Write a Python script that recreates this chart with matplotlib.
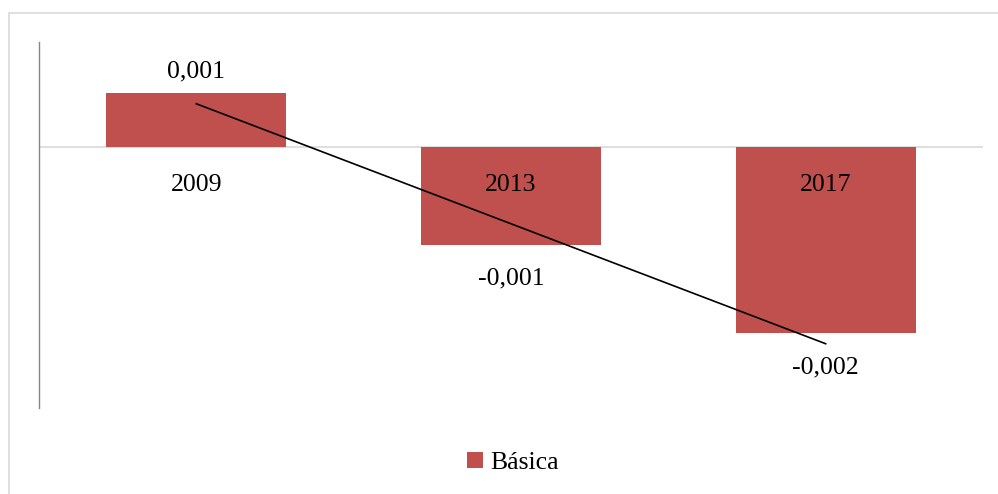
import numpy as np
import matplotlib.pyplot as plt
from matplotlib.patches import Rectangle

years = ["2009", "2013", "2017"]
values = [0.00057, -0.00105, -0.0020]
series_name = "Básica"

bar_color = "#C0504D"
plt.rcParams["font.family"] = ["Liberation Serif", "DejaVu Serif"]

fig = plt.figure(figsize=(9.98, 4.94), dpi=100)
ax = fig.add_axes([39 / 998, 1 - 408 / 494, (983 - 39) / 998, (408 - 42) / 494])

x = np.arange(len(years))
bars = ax.bar(x, values, width=0.572, color=bar_color, label=series_name, zorder=2)

# linear trendline through the bar values
slope, intercept = np.polyfit(x, values, 1)
ax.plot(x, slope * x + intercept, color="black", linewidth=1.2, zorder=3)

ax.axhline(0, color="#D9D9D9", linewidth=1.2, zorder=1)
ax.set_xlim(-0.5, 2.5)
ax.set_ylim(-0.0028, 0.00112)

for s in ["top", "right", "bottom"]:
    ax.spines[s].set_visible(False)
ax.spines["left"].set_color("#868686")
ax.spines["left"].set_linewidth(1.0)
ax.set_xticks([])
ax.set_yticks([])

fs = 18.5
for xi, v, yr in zip(x, values, years):
    label = f"{v:.3f}".replace(".", ",")
    if v >= 0:
        ax.annotate(label, (xi, v), xytext=(0, 15.5), textcoords="offset points",
                    ha="center", va="center", fontsize=fs)
    else:
        ax.annotate(label, (xi, v), xytext=(0, -24.5), textcoords="offset points",
                    ha="center", va="center", fontsize=fs)
    ax.annotate(yr, (xi, 0), xytext=(0, -27.5), textcoords="offset points",
                ha="center", va="center", fontsize=fs)

fig.legend(handles=[bars], labels=[series_name], loc="center",
           bbox_to_anchor=(513 / 998, 1 - 463 / 494), frameon=False,
           fontsize=fs, handlelength=0.6, handleheight=0.6, handletextpad=0.3)

fig.patches.append(Rectangle((9 / 998, -0.01), 1.0, 1 - 13 / 494 + 0.01,
                             transform=fig.transFigure, fill=False,
                             edgecolor="#D9D9D9", linewidth=1.2))

fig.savefig("out.png", dpi=100)
plt.close(fig)
